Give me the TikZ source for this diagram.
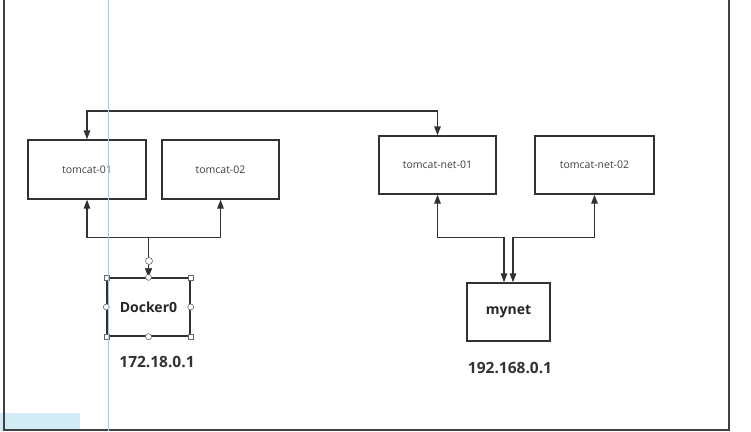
\documentclass[tikz,border=0pt]{standalone}
\usepackage{fontspec}
\setmainfont{Open Sans}
\usetikzlibrary{arrows.meta}
\definecolor{guide}{RGB}{170,200,222}
\definecolor{guidefill}{RGB}{210,235,247}
\definecolor{edge}{RGB}{50,50,50}

\begin{document}
\begin{tikzpicture}[x=1pt,y=-1pt,
  >={Triangle[length=9pt,width=6.5pt]},
  box/.style={draw=edge,line width=1.3pt,inner sep=0pt,text=black!75,
    font=\fontsize{10.5}{12}\selectfont},
  hostbox/.style={box,text=black!85,font=\fontsize{14}{16}\selectfont\bfseries},
  iplabel/.style={text=black!80,font=\fontsize{15.5}{18}\selectfont\bfseries},
  link/.style={<->,draw=edge,line width=1.3pt},
  handle/.style={draw=black!60,fill=white,line width=0.6pt}]
  \useasboundingbox (0,0) rectangle (751,431);
  \fill[guidefill] (0,413) rectangle (80,431);
  % frame of the page
  \draw[line width=1.5pt,black!75] (4,0) -- (4,430) -- (729,430) -- (729,0);

  % containers
  \node[box,minimum width=118pt,minimum height=59pt] (t01) at (87,169.5) {tomcat-01};
  \node[box,minimum width=117pt,minimum height=59pt] (t02) at (220.5,169.5) {tomcat-02};
  \node[box,minimum width=117pt,minimum height=58pt] (tn01) at (437.5,165) {tomcat-net-01};
  \node[box,minimum width=119pt,minimum height=58pt] (tn02) at (594.5,165) {tomcat-net-02};

  % bridges
  \node[hostbox,minimum width=83pt,minimum height=58pt] (d0) at (148.5,307) {Docker0};
  \node[hostbox,minimum width=83pt,minimum height=58pt] (mn) at (508.5,312) {mynet};
  \node[iplabel] (d0ip) at (157,362) {172.18.0.1};
  \node[iplabel] (mnip) at (510,368) {192.168.0.1};

  % links
  \coordinate (bus) at (260,111);
  \draw[link] (t01.north) |- (bus) -| (tn01.north);
  \draw[link] (d0.north) -- ++(0,-40) -| (t01.south);
  \draw[link] (d0.north) -- ++(0,-40) -| (t02.south);
  \draw[link] ([xshift=-4.5pt]mn.north) -- ++(0,-45) -| (tn01.south);
  \draw[link] ([xshift=4.5pt]mn.north) -- ++(0,-45) -| (tn02.south);

  % selection handles round Docker0
  \foreach \c in {north west,north east,south west,south east}
    \draw[handle] (d0.\c) ++(-2.5,-2.5) rectangle ++(5,5);
  \foreach \c in {north,south,west,east}
    \draw[handle] (d0.\c) circle (3pt);
  \draw[handle] (149,261) circle (3.5pt);

  % guide line
  \draw[guide,line width=1pt] (108,0) -- (108,431);
\end{tikzpicture}
\end{document}
